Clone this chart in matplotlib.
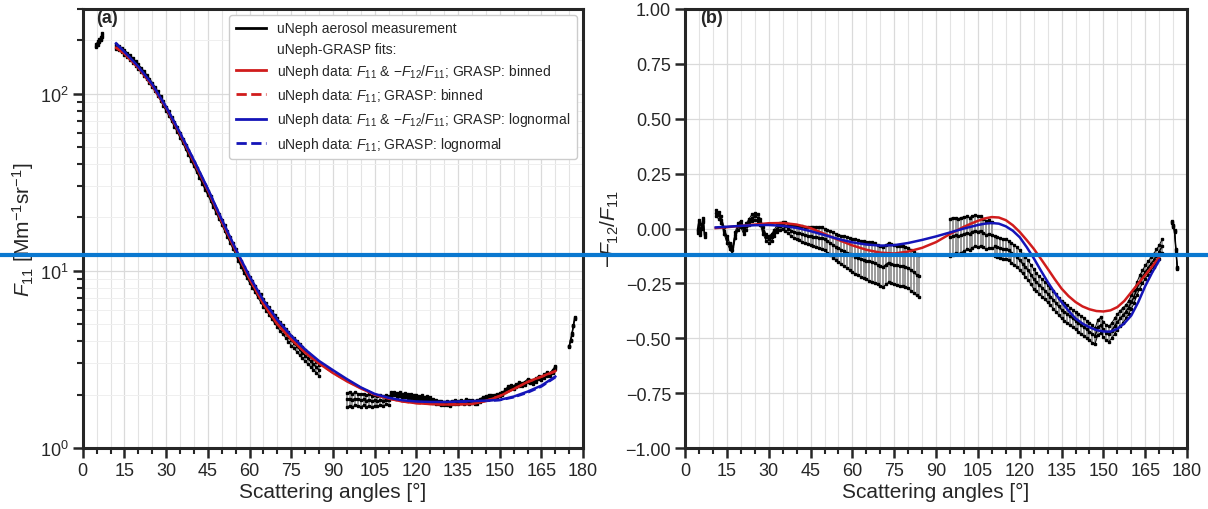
import numpy as np
import matplotlib
matplotlib.use("Agg")
import matplotlib.pyplot as plt
from matplotlib.lines import Line2D
from matplotlib.ticker import MultipleLocator, LogLocator, FuncFormatter, NullFormatter, FixedLocator

plt.rcParams.update({
    'font.family': ['Liberation Sans', 'DejaVu Sans'],
    'mathtext.fontset': 'custom',
    'mathtext.rm': 'Liberation Sans',
    'mathtext.it': 'Liberation Sans:italic',
    'mathtext.bf': 'Liberation Sans:bold',
    'axes.unicode_minus': True,
})

# ---------------- Panel (a): F11 measurement ----------------
a1_x = [4.8, 5.4, 6.0, 6.5, 7.0]
a1_y = [186, 193, 199, 204, 214]
a1_rel = [2, 2, 2, 2, 2]

a2_x = np.arange(12, 86)
a2_y = [185, 181, 176, 171, 165, 160, 154, 148, 142, 136,
        130, 124, 118, 112, 106, 100, 94, 88, 82, 77,
        72, 67, 62.5, 58, 54, 50, 46.5, 43, 40, 37,
        34.5, 32, 29.5, 27.5, 25.5, 23.5, 21.8, 20.2, 18.8, 17.4,
        16.1, 14.9, 13.8, 12.8, 11.8, 10.9, 10.1, 9.5, 8.9, 8.4,
        7.9, 7.4, 7.0, 6.6, 6.25, 5.95, 5.65, 5.35, 5.1, 4.85,
        4.65, 4.45, 4.25, 4.05, 3.9, 3.75, 3.6, 3.45, 3.32, 3.2,
        3.08, 2.97, 2.86, 2.75]
a2_rel = [3, 3, 3, 3, 3, 3, 3, 3, 3, 3,
          3, 3, 3, 3, 3, 3, 3, 3, 3, 3,
          3, 3, 3, 3, 3, 3, 3, 3, 3, 3,
          3, 3, 3, 3, 3, 3, 3, 3, 3, 3.5,
          3.5, 3.5, 3.5, 3.5, 4, 4, 4, 4, 4, 4.5,
          4.5, 4.5, 5, 5, 5, 5, 5.5, 5.5, 5.5, 6,
          6, 6, 6.5, 6.5, 6.5, 7, 7, 7, 7, 7,
          7, 7, 7, 7]

a3_x = np.arange(95, 111)
a3_y = [1.88, 1.90, 1.87, 1.90, 1.88, 1.86, 1.88, 1.85, 1.87, 1.84,
        1.86, 1.84, 1.86, 1.85, 1.87, 1.86]
a3_err = [0.17, 0.17, 0.16, 0.16, 0.15, 0.15, 0.14, 0.14, 0.14, 0.13,
          0.13, 0.12, 0.12, 0.12, 0.11, 0.11]

a4_x = np.arange(111, 171)
a4_y = [2.02, 2.03, 2.00, 2.01, 1.98, 1.99, 1.96, 1.97, 1.94, 1.95,
        1.92, 1.93, 1.90, 1.91, 1.88, 1.84, 1.82, 1.80, 1.79, 1.78,
        1.79, 1.77, 1.80, 1.82, 1.80, 1.83, 1.81, 1.84, 1.82, 1.83,
        1.80, 1.82, 1.86, 1.90, 1.93, 1.95, 1.94, 1.96, 1.98, 2.00,
        2.02, 2.10, 2.18, 2.22, 2.20, 2.25, 2.30, 2.28, 2.32, 2.40,
        2.38, 2.36, 2.42, 2.50, 2.48, 2.55, 2.62, 2.60, 2.70, 2.85]
a4_err = [0.05, 0.05, 0.05, 0.05, 0.05, 0.05, 0.05, 0.05, 0.05, 0.05,
          0.05, 0.05, 0.05, 0.05, 0.05, 0.04, 0.04, 0.04, 0.04, 0.04,
          0.04, 0.04, 0.04, 0.04, 0.04, 0.04, 0.04, 0.04, 0.04, 0.04,
          0.04, 0.04, 0.04, 0.04, 0.04, 0.04, 0.04, 0.04, 0.04, 0.04,
          0.04, 0.04, 0.05, 0.05, 0.05, 0.05, 0.05, 0.05, 0.05, 0.05,
          0.05, 0.05, 0.05, 0.05, 0.05, 0.06, 0.06, 0.06, 0.06, 0.06]

a5_x = [175.0, 175.5, 176.0, 176.5, 177.0]
a5_y = [3.75, 4.05, 4.4, 4.9, 5.4]
a5_rel = [1, 1, 1, 1, 1]

# fits for panel (a)
fa_x = [12, 15, 20, 25, 30, 35, 40, 45, 50, 55, 60, 65, 70, 75, 80, 85, 90,
        95, 100, 105, 110, 115, 120, 125, 130, 135, 140, 145, 150, 155, 160, 165, 170]
fa_blue = [192, 172, 142, 113, 84, 60, 42, 29, 19.5, 13.3, 9.3, 6.8, 5.3, 4.3, 3.6, 3.1, 2.75,
           2.45, 2.2, 2.02, 1.92, 1.86, 1.83, 1.82, 1.82, 1.83, 1.84, 1.85, 1.87, 1.95, 2.08, 2.25, 2.53]
fa_red = [181, 168, 140, 111, 83, 59, 41, 28.5, 19, 13, 9.0, 6.5, 5.0, 4.1, 3.45, 3.0, 2.65,
          2.38, 2.17, 2.0, 1.9, 1.83, 1.79, 1.77, 1.76, 1.76, 1.77, 1.84, 1.96, 2.15, 2.36, 2.53, 2.72]
fa_blue_dash = [190, 171, 141, 112, 84, 60, 42, 29, 19.4, 13.2, 9.2, 6.7, 5.25, 4.25, 3.55, 3.05, 2.72,
                2.43, 2.19, 2.01, 1.91, 1.85, 1.82, 1.81, 1.81, 1.82, 1.83, 1.84, 1.86, 1.93, 2.05, 2.22, 2.5]
fa_red_dash = [182, 168, 140, 111, 83, 59, 41, 28.4, 19, 13, 9.0, 6.5, 5.0, 4.1, 3.45, 3.0, 2.66,
               2.39, 2.18, 2.0, 1.9, 1.83, 1.79, 1.77, 1.76, 1.77, 1.78, 1.85, 1.97, 2.15, 2.35, 2.52, 2.7]

# ---------------- Panel (b): -F12/F11 measurement ----------------
b1_x = [4.5, 5.0, 5.5, 6.0, 6.5, 7.0]
b1_y = [-0.01, 0.03, -0.02, 0.01, 0.04, -0.03]
b1_err = [0.01, 0.01, 0.01, 0.01, 0.01, 0.01]

b2_x = np.arange(11, 85)
b2_y = [0.07, 0.06, 0.04, -0.01, -0.05, -0.08, -0.10, -0.03, 0.01, 0.02,
        -0.01, 0.01, 0.03, 0.05, 0.055, 0.05, 0.03, -0.01, -0.04, -0.05,
        -0.04, -0.02, 0.0, 0.01, 0.015, 0.01, 0.0, -0.01, -0.015, -0.02,
        -0.022, -0.025, -0.03, -0.032, -0.035, -0.038, -0.04, -0.042, -0.045, -0.05,
        -0.058, -0.066, -0.075, -0.083, -0.09, -0.097, -0.104, -0.11, -0.117, -0.123,
        -0.128, -0.133, -0.138, -0.142, -0.146, -0.15, -0.153, -0.158, -0.165, -0.172,
        -0.176, -0.165, -0.155, -0.16, -0.165, -0.168, -0.17, -0.172, -0.175, -0.18,
        -0.19, -0.2, -0.21, -0.215]
b2_err = [0.015, 0.015, 0.015, 0.015, 0.015, 0.015, 0.015, 0.015, 0.015, 0.015,
          0.015, 0.015, 0.015, 0.015, 0.015, 0.015, 0.015, 0.015, 0.015, 0.015,
          0.015, 0.015, 0.015, 0.015, 0.015, 0.02, 0.022, 0.025, 0.028, 0.03,
          0.032, 0.035, 0.038, 0.04, 0.042, 0.044, 0.046, 0.048, 0.05, 0.05,
          0.052, 0.055, 0.058, 0.06, 0.062, 0.065, 0.068, 0.07, 0.072, 0.075,
          0.078, 0.08, 0.082, 0.084, 0.086, 0.088, 0.09, 0.09, 0.09, 0.09,
          0.09, 0.09, 0.09, 0.09, 0.09, 0.09, 0.09, 0.092, 0.092, 0.093,
          0.093, 0.094, 0.095, 0.095]

b3_x = np.arange(95, 111)
b3_y = [-0.04, -0.035, -0.03, -0.035, -0.03, -0.025, -0.02, -0.025, -0.015, -0.01,
        -0.015, -0.01, -0.02, -0.03, -0.025, -0.03]
b3_err = [0.085, 0.085, 0.08, 0.08, 0.08, 0.078, 0.075, 0.075, 0.072, 0.07,
          0.07, 0.068, 0.065, 0.065, 0.062, 0.06]

b4_x = np.arange(111, 172)
b4_y = [-0.08, -0.085, -0.09, -0.092, -0.095, -0.1, -0.11, -0.12, -0.13, -0.145,
        -0.16, -0.175, -0.19, -0.21, -0.23, -0.245, -0.258, -0.27, -0.283, -0.297,
        -0.31, -0.325, -0.34, -0.355, -0.37, -0.38, -0.39, -0.4, -0.41, -0.42,
        -0.43, -0.44, -0.45, -0.46, -0.47, -0.48, -0.49, -0.45, -0.44, -0.46,
        -0.475, -0.48, -0.465, -0.445, -0.426, -0.41, -0.395, -0.38, -0.36, -0.335,
        -0.31, -0.275, -0.244, -0.22, -0.198, -0.18, -0.162, -0.145, -0.125, -0.107,
        -0.08]
b4_err = [0.045, 0.045, 0.045, 0.045, 0.045, 0.045, 0.045, 0.045, 0.045, 0.045,
          0.045, 0.045, 0.045, 0.045, 0.045, 0.04, 0.04, 0.04, 0.04, 0.04,
          0.04, 0.04, 0.04, 0.04, 0.04, 0.04, 0.04, 0.04, 0.04, 0.04,
          0.04, 0.04, 0.04, 0.04, 0.04, 0.04, 0.035, 0.035, 0.035, 0.035,
          0.035, 0.035, 0.035, 0.035, 0.035, 0.035, 0.035, 0.03, 0.03, 0.03,
          0.03, 0.03, 0.03, 0.03, 0.03, 0.03, 0.03, 0.03, 0.03, 0.03,
          0.03]

b5_x = [174.5, 175.0, 175.5, 176.0, 176.5]
b5_y = [0.03, 0.01, -0.01, -0.10, -0.18]
b5_err = [0.005, 0.005, 0.005, 0.005, 0.005]

# fits for panel (b)
fb_x = [11, 15, 20, 25, 30, 35, 40, 45, 50, 55, 60, 65, 70, 75, 80, 85, 90, 95, 100,
        102.5, 105, 107.5, 110, 112.5, 115, 117.5, 120, 122.5, 125, 127.5, 130, 132.5,
        135, 137.5, 140, 142.5, 145, 147.5, 150, 152.5, 155, 157.5, 160, 162.5, 165, 167.5, 170]
fb_blue = [0.005, 0.008, 0.012, 0.015, 0.016, 0.012, 0.003, -0.012, -0.03, -0.048, -0.063,
           -0.073, -0.078, -0.076, -0.066, -0.052, -0.036, -0.018, 0.0,
           0.008, 0.016, 0.022, 0.025, 0.022, 0.01, -0.01, -0.04, -0.085, -0.135, -0.19,
           -0.243, -0.292, -0.335, -0.375, -0.41, -0.433, -0.45, -0.463, -0.469, -0.47,
           -0.457, -0.432, -0.396, -0.335, -0.262, -0.2, -0.145]
fb_red = [0.002, 0.006, 0.012, 0.018, 0.024, 0.025, 0.018, 0.002, -0.025, -0.052, -0.077,
          -0.097, -0.11, -0.114, -0.105, -0.088, -0.062, -0.025, 0.008,
          0.022, 0.035, 0.046, 0.052, 0.05, 0.038, 0.015, -0.016, -0.053, -0.092, -0.137,
          -0.183, -0.23, -0.274, -0.308, -0.335, -0.355, -0.368, -0.376, -0.378, -0.373,
          -0.358, -0.33, -0.29, -0.25, -0.212, -0.172, -0.13]

x_ticks = [0, 15, 30, 45, 60, 75, 90, 105, 120, 135, 150, 165, 180]
b_yticks = [-1.0, -0.75, -0.5, -0.25, 0.0, 0.25, 0.5, 0.75, 1.0]

RED = '#d01c1c'
BLUE = '#1414b8'
DARK = '#262626'
GRID = '#e3e3e3'
TICKFS = 13
LABELFS = 15


def draw_meas(ax, x, y, e):
    x = np.asarray(x, float)
    y = np.asarray(y, float)
    e = np.asarray(e, float)
    ax.vlines(x, y - e, y + e, color='0.5', lw=1.1, zorder=2)
    ax.plot(x, y + e, color='k', lw=0.7, marker='s', ms=1.8, zorder=3)
    ax.plot(x, y - e, color='k', lw=0.7, marker='s', ms=1.8, zorder=3)
    ax.plot(x, y, color='k', lw=1.1, marker='s', ms=2.0, zorder=3)


def style_axes(ax):
    ax.set_xlim(0, 180)
    ax.xaxis.set_major_locator(FixedLocator(x_ticks))
    ax.xaxis.set_minor_locator(MultipleLocator(5))
    ax.grid(True, which='major', color='#dadada', lw=0.9, zorder=0)
    ax.grid(True, which='minor', axis='x', color=GRID, lw=0.8, zorder=0)
    for s in ax.spines.values():
        s.set_linewidth(2.2)
        s.set_color(DARK)
    ax.tick_params(which='major', direction='out', length=7, width=1.8, color=DARK,
                   labelsize=TICKFS, labelcolor=DARK, pad=3)
    ax.tick_params(which='minor', direction='out', length=4.5, width=1.5, color=DARK)
    ax.set_axisbelow(True)
    ax.set_xlabel('Scattering angles [°]', fontsize=LABELFS, color=DARK, labelpad=2)


fig = plt.figure(figsize=(12.08, 5.10), dpi=100)
axa = fig.add_axes([0.0685, 0.1196, 0.4142, 0.8608])
axb = fig.add_axes([0.5671, 0.1196, 0.4156, 0.8608])

# ----- panel (a)
style_axes(axa)
axa.set_yscale('log')
axa.set_ylim(1, 300)
axa.yaxis.set_major_locator(LogLocator(base=10, numticks=10))
axa.yaxis.set_minor_locator(LogLocator(base=10, subs=np.arange(2, 10), numticks=10))
axa.yaxis.set_minor_formatter(NullFormatter())
axa.grid(True, which='minor', axis='y', color='#efefef', lw=0.7, zorder=0)

for xs, ys, rel in [(a1_x, a1_y, a1_rel), (a2_x, a2_y, a2_rel), (a5_x, a5_y, a5_rel)]:
    ys_arr = np.asarray(ys, float)
    draw_meas(axa, xs, ys_arr, ys_arr * np.asarray(rel, float) / 100.0)
draw_meas(axa, a3_x, a3_y, a3_err)
draw_meas(axa, a4_x, a4_y, a4_err)

axa.plot(fa_x, fa_red_dash, color=RED, lw=1.6, ls='--', zorder=4)
axa.plot(fa_x, fa_blue_dash, color=BLUE, lw=1.6, ls='--', zorder=4)
axa.plot(fa_x, fa_red, color=RED, lw=1.8, zorder=5)
axa.plot(fa_x, fa_blue, color=BLUE, lw=1.8, zorder=5)

axa.set_ylabel(r'$F_{11}$ [Mm$^{-1}$sr$^{-1}$]', fontsize=LABELFS, color=DARK, labelpad=3)
axa.text(0.027, 0.999, '(a)', transform=axa.transAxes, fontsize=13, fontweight='bold',
         va='top', ha='left', color=DARK)

handles = [
    Line2D([], [], color='k', lw=2),
    Line2D([], [], color='none'),
    Line2D([], [], color=RED, lw=2),
    Line2D([], [], color=RED, lw=2, ls='--'),
    Line2D([], [], color=BLUE, lw=2),
    Line2D([], [], color=BLUE, lw=2, ls='--'),
]
labels = [
    'uNeph aerosol measurement',
    'uNeph-GRASP fits:',
    r'uNeph data: $F_{11}$ & $-F_{12}/F_{11}$; GRASP: binned',
    r'uNeph data: $F_{11}$; GRASP: binned',
    r'uNeph data: $F_{11}$ & $-F_{12}/F_{11}$; GRASP: lognormal',
    r'uNeph data: $F_{11}$; GRASP: lognormal',
]
leg = axa.legend(handles, labels, loc='upper right', fontsize=10, frameon=True,
                 framealpha=1, edgecolor='#cccccc', borderaxespad=0.45,
                 handlelength=2.2, labelspacing=0.45, borderpad=0.45)
for t in leg.get_texts():
    t.set_color(DARK)

# ----- panel (b)
style_axes(axb)
axb.set_ylim(-1, 1)
axb.yaxis.set_major_locator(FixedLocator(b_yticks))
axb.yaxis.set_major_formatter(FuncFormatter(lambda v, p: ('%.2f' % v).replace('-', '\u2212')))

draw_meas(axb, b1_x, b1_y, b1_err)
draw_meas(axb, b2_x, b2_y, b2_err)
draw_meas(axb, b3_x, b3_y, b3_err)
draw_meas(axb, b4_x, b4_y, b4_err)
draw_meas(axb, b5_x, b5_y, b5_err)

axb.plot(fb_x, fb_red, color=RED, lw=1.8, zorder=5)
axb.plot(fb_x, fb_blue, color=BLUE, lw=1.8, zorder=5)

axb.set_ylabel(r'$-F_{12}/F_{11}$', fontsize=LABELFS, color=DARK, labelpad=3)
axb.text(0.03, 0.999, '(b)', transform=axb.transAxes, fontsize=13, fontweight='bold',
         va='top', ha='left', color=DARK)

# horizontal blue line across the whole figure
fig.add_artist(Line2D([0, 1], [0.499, 0.499], transform=fig.transFigure,
                      color='#0a78d0', lw=3.0, zorder=20))

fig.savefig('out.png', dpi=100)
